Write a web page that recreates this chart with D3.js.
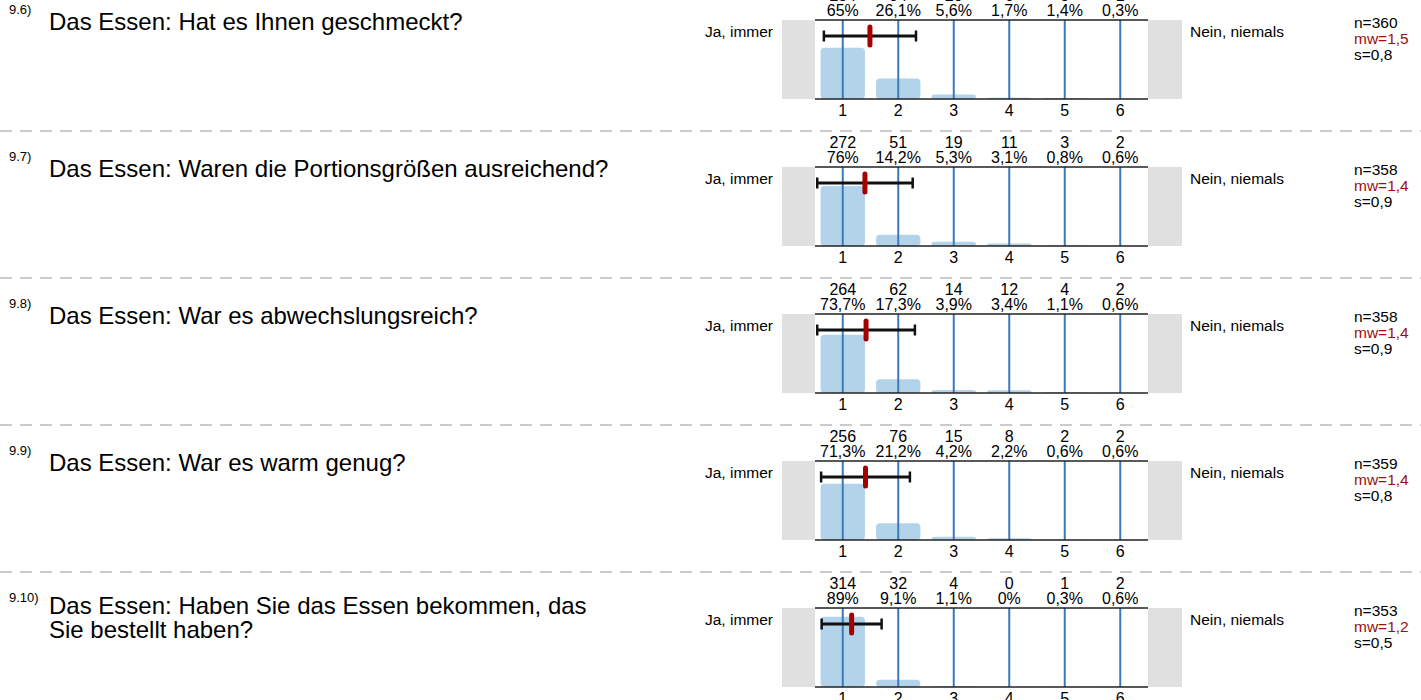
<!DOCTYPE html>
<html lang="de">
<head>
  <meta charset="UTF-8" />
  <title>Das Essen</title>
  <script src="https://cdn.jsdelivr.net/npm/d3@7"></script>
  <style>
    body { margin: 0; background: #fff; overflow: hidden; }
    text { font-family: "Liberation Sans", Arial, sans-serif; }
  </style>
</head>
<body>
<script>
  const width = 1421;
  const height = 700;

  // data
  const questionNums = ["9.6)", "9.7)", "9.8)", "9.9)", "9.10)"];
  const questions = [
    ["Das Essen: Hat es Ihnen geschmeckt?"],
    ["Das Essen: Waren die Portionsgrößen ausreichend?"],
    ["Das Essen: War es abwechslungsreich?"],
    ["Das Essen: War es warm genug?"],
    ["Das Essen: Haben Sie das Essen bekommen, das", "Sie bestellt haben?"]
  ];
  const categories = [1, 2, 3, 4, 5, 6];
  const counts = [
    [234, 94, 20, 6, 5, 1],
    [272, 51, 19, 11, 3, 2],
    [264, 62, 14, 12, 4, 2],
    [256, 76, 15, 8, 2, 2],
    [314, 32, 4, 0, 1, 2]
  ];
  const percents = [
    [65, 26.1, 5.6, 1.7, 1.4, 0.3],
    [76, 14.2, 5.3, 3.1, 0.8, 0.6],
    [73.7, 17.3, 3.9, 3.4, 1.1, 0.6],
    [71.3, 21.2, 4.2, 2.2, 0.6, 0.6],
    [89, 9.1, 1.1, 0, 0.3, 0.6]
  ];
  const nValues = [360, 358, 358, 359, 353];
  const means = [1.49, 1.40, 1.42, 1.41, 1.16];
  const sds = [0.83, 0.86, 0.88, 0.80, 0.54];
  const leftLabel = "Ja, immer";
  const rightLabel = "Nein, niemals";

  const de = d3.formatLocale({ decimal: ",", thousands: ".", grouping: [3], currency: ["", "€"] });
  const fmt1 = de.format(".1f");
  const fmtPct = p => (Number.isInteger(p) ? p : fmt1(p)) + "%";

  const blockH = 147;
  const firstTop = -16;   // dashed line above the first block (off screen)

  const svg = d3.select('body')
    .append('svg')
    .attr('width', width)
    .attr('height', height);

  // shared scales
  const x = d3.scaleLinear().domain([0.5, 6.5]).range([815, 1148]);
  const step = x(2) - x(1);
  const barW = step * 0.8;

  questions.forEach((q, i) => {
    const top = firstTop + i * blockH;
    const g = svg.append('g').attr('transform', `translate(0,${top})`);
    const T = 36, B = 115;
    const y = d3.scaleLinear().domain([0, 100]).range([B, T]);

    // separator
    if (i > 0) {
      g.append('line')
        .attr('x1', 0).attr('x2', width)
        .attr('y1', 0).attr('y2', 0)
        .attr('stroke', '#bbbbbb')
        .attr('stroke-width', 1.5)
        .attr('stroke-dasharray', '12,8');
    }

    // question
    g.append('text')
      .attr('x', 9).attr('y', 30)
      .attr('font-size', 13)
      .text(questionNums[i]);
    g.append('text')
      .attr('x', 49).attr('y', q.length > 1 ? 42 : 46)
      .attr('font-size', 24)
      .selectAll('tspan')
      .data(q)
      .join('tspan')
      .attr('x', 49)
      .attr('dy', (d, j) => j === 0 ? 0 : 24)
      .text(d => d);

    // grey end boxes
    g.append('rect')
      .attr('x', 782).attr('y', T)
      .attr('width', x.range()[0] - 782).attr('height', B - T)
      .attr('fill', '#e0e0e0');
    g.append('rect')
      .attr('x', x.range()[1]).attr('y', T)
      .attr('width', 1182 - x.range()[1]).attr('height', B - T)
      .attr('fill', '#e0e0e0');

    // bars
    g.selectAll('rect.bar')
      .data(categories)
      .join('rect')
      .attr('class', 'bar')
      .attr('x', d => x(d) - barW / 2)
      .attr('y', (d, j) => y(percents[i][j]))
      .attr('width', barW)
      .attr('height', (d, j) => B - y(percents[i][j]))
      .attr('rx', 4)
      .attr('fill', '#b3d3ea');

    // category lines
    g.selectAll('line.cat')
      .data(categories)
      .join('line')
      .attr('class', 'cat')
      .attr('x1', d => x(d)).attr('x2', d => x(d))
      .attr('y1', T).attr('y2', B)
      .attr('stroke', '#3a7aba')
      .attr('stroke-width', 2);

    // frame lines
    [T, B].forEach(yy => {
      g.append('line')
        .attr('x1', x.range()[0]).attr('x2', x.range()[1])
        .attr('y1', yy).attr('y2', yy)
        .attr('stroke', '#222')
        .attr('stroke-width', 1.5);
    });

    // counts and percentages
    g.selectAll('text.cnt')
      .data(categories)
      .join('text')
      .attr('class', 'cnt')
      .attr('x', d => x(d)).attr('y', 17)
      .attr('text-anchor', 'middle')
      .attr('font-size', 16)
      .text((d, j) => counts[i][j]);
    g.selectAll('text.pct')
      .data(categories)
      .join('text')
      .attr('class', 'pct')
      .attr('x', d => x(d)).attr('y', 32)
      .attr('text-anchor', 'middle')
      .attr('font-size', 16)
      .text((d, j) => fmtPct(percents[i][j]));

    // tick labels
    g.selectAll('text.tick')
      .data(categories)
      .join('text')
      .attr('class', 'tick')
      .attr('x', d => x(d)).attr('y', 132)
      .attr('text-anchor', 'middle')
      .attr('font-size', 16)
      .text(d => d);

    // error bar: mean +/- sd
    const ey = T + 16;
    const lo = x(means[i] - sds[i]), hi = x(means[i] + sds[i]);
    g.append('line')
      .attr('x1', lo).attr('x2', hi).attr('y1', ey).attr('y2', ey)
      .attr('stroke', '#111').attr('stroke-width', 3);
    [lo, hi].forEach(xx => {
      g.append('line')
        .attr('x1', xx).attr('x2', xx).attr('y1', ey - 5.5).attr('y2', ey + 5.5)
        .attr('stroke', '#111').attr('stroke-width', 2.5);
    });
    g.append('rect')
      .attr('x', x(means[i]) - 2.5).attr('y', ey - 11.5)
      .attr('width', 5).attr('height', 23)
      .attr('rx', 2.5)
      .attr('fill', '#a50000');

    // end labels
    g.append('text')
      .attr('x', 773).attr('y', 53)
      .attr('text-anchor', 'end')
      .attr('font-size', 15.5)
      .text(leftLabel);
    g.append('text')
      .attr('x', 1190).attr('y', 53)
      .attr('font-size', 15.5)
      .text(rightLabel);

    // stats
    const st = g.append('text').attr('x', 1354).attr('font-size', 15.5);
    st.append('tspan').attr('x', 1354).attr('y', 44).text('n=' + nValues[i]);
    st.append('tspan').attr('x', 1354).attr('y', 60).attr('fill', '#9b1010').text('mw=' + fmt1(means[i]));
    st.append('tspan').attr('x', 1354).attr('y', 76).text('s=' + fmt1(sds[i]));
  });
</script>
</body>
</html>
